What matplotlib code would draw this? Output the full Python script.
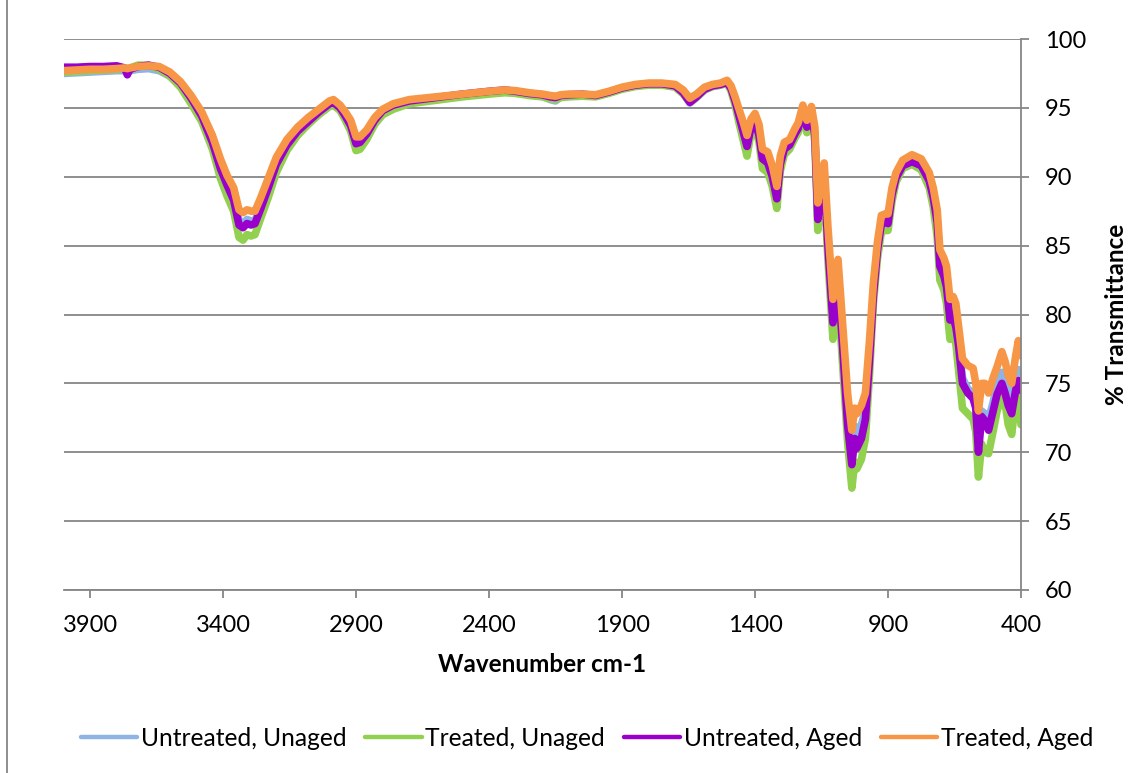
import matplotlib
matplotlib.use("Agg")
import matplotlib.pyplot as plt
from matplotlib.lines import Line2D

plt.rcParams["font.family"] = ["Lato", "DejaVu Sans"]

# FTIR spectra, wavenumber (cm-1) against % transmittance
wavenumber = [
    4000, 3950, 3900, 3850, 3800, 3770, 3760, 3750, 3720, 3680, 3640, 3600,
    3560, 3520, 3480, 3440, 3410, 3385, 3360, 3340, 3325, 3310, 3295, 3280,
    3260, 3230, 3200, 3160, 3120, 3080, 3040, 3000, 2985, 2960, 2940, 2920,
    2900, 2885, 2860, 2830, 2800, 2760, 2700, 2600, 2500, 2400, 2340, 2300,
    2250, 2200, 2170, 2150, 2130, 2100, 2050, 2000, 1950, 1900, 1850, 1800,
    1750, 1700, 1670, 1645, 1620, 1590, 1560, 1530, 1505, 1490, 1475, 1460,
    1445, 1430, 1415, 1400, 1385, 1372, 1352, 1335, 1318, 1305, 1290, 1270,
    1250, 1238, 1220, 1205, 1188, 1175, 1164, 1150, 1140, 1126, 1107, 1088,
    1070, 1052, 1036, 1025, 1017, 1000, 985, 970, 955, 940, 925, 910,
    900, 885, 870, 845, 810, 775, 745, 730, 715, 705, 690, 680,
    667, 655, 645, 635, 620, 600, 580, 570, 560, 548, 536, 522,
    505, 490, 472, 460, 448, 435, 420, 410, 400,
]

untreated_unaged = [
    97.5, 97.55, 97.6, 97.65, 97.7, 97.7, 97.7, 97.7, 97.8, 97.85, 97.7, 97.3,
    96.6, 95.5, 94.3, 92.6, 90.8, 89.6, 88.6, 86.8, 86.6, 86.9, 86.8, 86.8,
    87.8, 89.3, 90.9, 92.3, 93.3, 94.0, 94.6, 95.2, 95.3, 94.9, 94.4, 93.7,
    92.5, 92.6, 93.1, 94.0, 94.7, 95.1, 95.4, 95.65, 95.9, 96.1, 96.2, 96.15,
    96.0, 95.85, 95.6, 95.5, 95.8, 95.9, 95.9, 95.85, 96.1, 96.4, 96.6, 96.7,
    96.7, 96.55, 96.05, 95.35, 95.75, 96.3, 96.55, 96.65, 96.8, 96.35, 95.5, 94.4,
    93.4, 92.3, 93.7, 94.1, 93.1, 91.4, 91.1, 90.1, 88.5, 91.0, 92.1, 92.4,
    93.2, 93.6, 94.9, 93.7, 94.7, 93.1, 87.0, 89.1, 90.1, 85.2, 79.6, 82.8,
    77.8, 72.6, 70.9, 71.9, 71.4, 72.0, 73.0, 76.8, 81.5, 84.7, 86.7, 86.8,
    86.7, 88.8, 90.0, 90.9, 91.2, 90.9, 89.8, 88.6, 86.9, 83.8, 83.1, 82.3,
    79.9, 80.1, 79.5, 78.1, 75.4, 74.6, 74.3, 73.6, 71.6, 73.0, 72.8, 72.4,
    73.6, 75.0, 75.8, 75.5, 74.6, 74.2, 75.6, 76.0, 75.3,
]

treated_unaged = [
    97.6, 97.65, 97.7, 97.75, 97.8, 97.85, 97.85, 97.9, 98.1, 98.1, 97.8, 97.3,
    96.5, 95.3, 94.0, 92.0, 89.9, 88.6, 87.5, 85.6, 85.4, 85.8, 85.7, 85.8,
    86.9, 88.5, 90.3, 91.9, 93.0, 93.8, 94.5, 95.1, 95.2, 94.8, 94.1, 93.3,
    91.9, 92.0, 92.7, 93.8, 94.5, 94.9, 95.3, 95.55, 95.8, 96.0, 96.1, 96.05,
    95.9, 95.8, 95.65, 95.6, 95.75, 95.8, 95.85, 95.8, 96.05, 96.35, 96.55, 96.65,
    96.65, 96.5, 96.0, 95.4, 95.75, 96.3, 96.55, 96.65, 96.8, 96.2, 95.2, 93.9,
    92.7, 91.5, 93.2, 93.6, 92.5, 90.6, 90.3, 89.3, 87.7, 90.4, 91.6, 92.0,
    92.8, 93.2, 94.5, 93.2, 94.3, 92.5, 86.1, 88.3, 89.3, 84.0, 78.2, 81.5,
    76.2, 70.8, 67.4, 69.3, 68.8, 69.5, 71.0, 75.5, 80.8, 84.0, 86.0, 86.1,
    86.1, 88.2, 89.6, 90.6, 90.9, 90.5, 89.2, 87.8, 85.6, 82.5, 81.8, 80.8,
    78.2, 78.6, 77.9, 76.0, 73.2, 72.8, 72.4, 71.5, 68.2, 70.6, 70.0, 69.9,
    71.5, 73.0, 74.0, 73.6, 72.0, 71.3, 73.8, 74.2, 72.0,
]

untreated_aged = [
    97.95, 97.95, 98.0, 98.0, 98.05, 97.9, 97.4, 97.8, 98.0, 98.1, 97.95, 97.5,
    96.8, 95.7, 94.4, 92.5, 90.6, 89.4, 88.3, 86.5, 86.3, 86.6, 86.5, 86.6,
    87.6, 89.2, 90.9, 92.3, 93.3, 94.0, 94.7, 95.3, 95.4, 95.0, 94.4, 93.7,
    92.4, 92.5, 93.1, 94.1, 94.8, 95.2, 95.5, 95.75, 96.0, 96.2, 96.3, 96.2,
    96.05, 95.95, 95.8, 95.75, 95.9, 95.95, 96.0, 95.9, 96.15, 96.45, 96.65, 96.75,
    96.75, 96.6, 96.1, 95.4, 95.8, 96.35, 96.6, 96.7, 96.85, 96.4, 95.5, 94.4,
    93.3, 92.2, 93.6, 94.0, 93.0, 91.3, 91.0, 90.0, 88.4, 90.9, 92.0, 92.3,
    93.1, 93.5, 94.8, 93.6, 94.6, 93.0, 86.9, 89.0, 90.0, 85.0, 79.4, 82.6,
    77.5, 72.0, 69.1, 71.0, 70.3, 71.0, 72.4, 76.6, 81.4, 84.6, 86.6, 86.7,
    86.6, 88.7, 89.9, 90.8, 91.1, 90.8, 89.7, 88.5, 86.7, 83.5, 82.8, 82.0,
    79.6, 79.8, 79.1, 77.8, 75.0, 74.3, 73.9, 73.2, 70.0, 72.6, 72.3, 71.6,
    73.0, 74.2, 75.0, 74.3, 73.4, 72.8, 74.5, 75.2, 74.5,
]

treated_aged = [
    97.7, 97.75, 97.8, 97.8, 97.85, 97.9, 97.85, 97.9, 98.0, 98.05, 98.0, 97.6,
    96.9, 95.9, 94.7, 93.0, 91.3, 90.1, 89.2, 87.6, 87.4, 87.6, 87.5, 87.5,
    88.4, 89.9, 91.4, 92.7, 93.6, 94.3, 94.9, 95.5, 95.6, 95.2, 94.7, 94.1,
    92.9, 92.9, 93.4, 94.3, 94.9, 95.3, 95.6, 95.8, 96.0, 96.2, 96.3, 96.25,
    96.1, 96.0, 95.9, 95.85, 95.95, 96.0, 96.0, 95.95, 96.2, 96.5, 96.7, 96.8,
    96.8, 96.7, 96.3, 95.7, 96.0, 96.5, 96.7, 96.8, 97.0, 96.6, 95.8, 94.9,
    94.0, 93.0, 94.2, 94.6, 93.8, 92.0, 91.8, 90.8, 89.3, 91.5, 92.5, 92.7,
    93.5, 93.9, 95.2, 94.1, 95.1, 93.6, 88.1, 90.0, 91.0, 86.4, 81.1, 84.0,
    79.1, 74.3, 71.6, 73.2, 72.8, 73.4, 74.3, 78.0, 82.3, 85.2, 87.2, 87.3,
    87.3, 89.2, 90.3, 91.2, 91.6, 91.3, 90.3, 89.2, 87.6, 84.7, 84.1, 83.5,
    81.1, 81.3, 80.8, 79.2, 76.8, 76.3, 76.1, 75.0, 73.0, 75.0, 75.0, 74.3,
    75.4, 76.2, 77.3, 76.6, 75.6, 75.0, 77.0, 78.1, 77.0,
]

series = [
    ("Untreated, Unaged", untreated_unaged, "#8EB4E3"),
    ("Treated, Unaged", treated_unaged, "#92D050"),
    ("Untreated, Aged", untreated_aged, "#9900CC"),
    ("Treated, Aged", treated_aged, "#F79646"),
]

W, H = 1147, 773
fig = plt.figure(figsize=(W / 100, H / 100), dpi=100)
ax = fig.add_axes([64 / W, (H - 590) / H, (1021 - 64) / W, (590 - 39) / H])

grid_col = "#868686"
for label, vals, col in series:
    ax.plot(wavenumber, vals, color=col, lw=5.5, solid_capstyle="round",
            solid_joinstyle="round", label=label)

ax.set_xlim(3998, 400)
ax.set_ylim(60, 100)
ax.set_xticks(range(3900, 399, -500))
ax.set_yticks(range(60, 101, 5))

ax.yaxis.tick_right()
ax.yaxis.set_label_position("right")
ax.grid(axis="y", color=grid_col, lw=1.3)
ax.set_axisbelow(True)
for side in ("left", "top"):
    ax.spines[side].set_visible(False)
for side in ("right", "bottom"):
    ax.spines[side].set_color(grid_col)
    ax.spines[side].set_linewidth(1.3)
ax.tick_params(axis="both", direction="out", length=6, width=1.3,
               color=grid_col, labelsize=17, labelcolor="black")
ax.tick_params(axis="y", pad=11)
ax.tick_params(axis="x", pad=12)

ax.set_xlabel("Wavenumber cm-1", fontsize=17.5, fontweight="bold", labelpad=12)
ax.set_ylabel("% Transmittance", fontsize=17.5, fontweight="bold", labelpad=14)

handles = [Line2D([], [], color=c, lw=3.2, solid_capstyle="round") for _, _, c in series]
fig.legend(handles, [s[0] for s in series], loc="center", ncol=4,
           bbox_to_anchor=(587 / W, 1 - 738 / H), frameon=False, fontsize=17.7,
           handlelength=2.3, handletextpad=0.15, columnspacing=0.75)

# outer chart border
fig.add_artist(Line2D([7.5 / W, 7.5 / W], [0, 1], color=grid_col, lw=1.3))

fig.savefig("out.png", dpi=100)
